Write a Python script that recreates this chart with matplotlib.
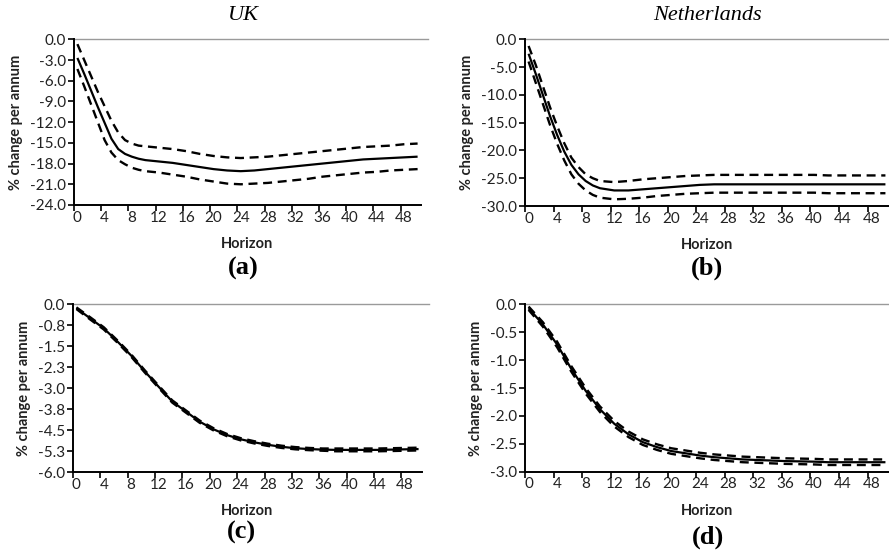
import matplotlib
matplotlib.use("Agg")
import matplotlib.pyplot as plt

# ---------------- data ----------------
# Panel (a): UK
h_a = [0, 1, 2, 3, 4, 5, 6, 7, 8, 9, 10, 12, 14, 16, 18, 20, 22, 24, 26, 28,
       30, 32, 34, 36, 38, 40, 42, 44, 46, 48, 50]
mid_a = [-2.7, -5.0, -7.4, -9.8, -12.1, -14.4, -15.9, -16.6, -17.0, -17.3, -17.5,
         -17.7, -17.9, -18.2, -18.5, -18.8, -19.0, -19.1, -19.0, -18.8,
         -18.6, -18.4, -18.2, -18.0, -17.8, -17.6, -17.4, -17.3, -17.2, -17.1, -17.0]
hi_a = [-0.7, -3.0, -5.3, -7.6, -9.7, -11.8, -13.5, -14.6, -15.1, -15.4, -15.5,
        -15.7, -15.9, -16.2, -16.6, -16.9, -17.1, -17.2, -17.1, -17.0,
        -16.8, -16.6, -16.4, -16.2, -16.0, -15.8, -15.6, -15.5, -15.4, -15.2, -15.1]
lo_a = [-4.3, -6.8, -9.4, -12.0, -14.6, -16.4, -17.5, -18.1, -18.6, -18.9, -19.1,
        -19.3, -19.6, -19.9, -20.3, -20.6, -20.9, -21.0, -20.9, -20.8,
        -20.6, -20.4, -20.2, -19.9, -19.7, -19.5, -19.3, -19.2, -19.0, -18.9, -18.8]

# Panel (b): Netherlands
h_b = h_a
mid_b = [-2.6, -6.2, -10.0, -13.8, -17.2, -20.2, -22.6, -24.3, -25.5, -26.3, -26.8,
         -27.2, -27.2, -27.0, -26.8, -26.6, -26.4, -26.2, -26.1, -26.1,
         -26.1, -26.1, -26.1, -26.1, -26.1, -26.1, -26.1, -26.1, -26.1, -26.1, -26.1]
hi_b = [-1.2, -4.6, -8.4, -12.2, -15.6, -18.7, -21.3, -23.0, -24.3, -25.0, -25.5,
        -25.7, -25.5, -25.2, -25.0, -24.8, -24.6, -24.5, -24.4, -24.4,
        -24.4, -24.4, -24.4, -24.4, -24.4, -24.4, -24.5, -24.5, -24.5, -24.5, -24.5]
lo_b = [-4.0, -7.8, -11.6, -15.4, -18.8, -21.8, -24.3, -26.0, -27.2, -28.0, -28.5,
        -28.8, -28.7, -28.5, -28.2, -28.0, -27.8, -27.7, -27.6, -27.6,
        -27.6, -27.6, -27.6, -27.6, -27.6, -27.6, -27.7, -27.7, -27.7, -27.7, -27.7]

# Panel (c)
h_c = [0, 2, 4, 6, 8, 10, 12, 14, 16, 18, 20, 22, 24, 26, 28, 30, 32, 34, 36,
       38, 40, 42, 44, 46, 48, 50]
mid_c = [-0.14, -0.50, -0.86, -1.33, -1.83, -2.40, -2.94, -3.47, -3.83, -4.19,
         -4.46, -4.67, -4.82, -4.93, -5.02, -5.09, -5.14, -5.17, -5.19,
         -5.20, -5.20, -5.20, -5.20, -5.19, -5.18, -5.17]
hi_c = [-0.11, -0.46, -0.82, -1.29, -1.79, -2.36, -2.90, -3.43, -3.79, -4.15,
        -4.42, -4.63, -4.78, -4.89, -4.98, -5.05, -5.10, -5.13, -5.15,
        -5.15, -5.15, -5.15, -5.15, -5.14, -5.13, -5.12]
lo_c = [-0.17, -0.54, -0.90, -1.37, -1.87, -2.44, -2.98, -3.51, -3.87, -4.23,
        -4.50, -4.71, -4.86, -4.97, -5.06, -5.13, -5.18, -5.21, -5.23,
        -5.25, -5.25, -5.25, -5.25, -5.24, -5.23, -5.22]

# Panel (d)
h_d = h_c
mid_d = [-0.07, -0.36, -0.72, -1.16, -1.55, -1.88, -2.14, -2.33, -2.47, -2.56,
         -2.63, -2.67, -2.71, -2.74, -2.76, -2.78, -2.79, -2.80, -2.81,
         -2.815, -2.82, -2.83, -2.83, -2.83, -2.83, -2.83]
hi_d = [-0.04, -0.32, -0.67, -1.11, -1.50, -1.83, -2.09, -2.28, -2.42, -2.51,
        -2.58, -2.62, -2.66, -2.69, -2.71, -2.73, -2.74, -2.75, -2.76,
        -2.765, -2.77, -2.78, -2.78, -2.78, -2.78, -2.78]
lo_d = [-0.10, -0.40, -0.77, -1.21, -1.60, -1.93, -2.19, -2.38, -2.52, -2.61,
        -2.68, -2.72, -2.76, -2.79, -2.81, -2.83, -2.84, -2.85, -2.86,
        -2.865, -2.87, -2.88, -2.88, -2.88, -2.88, -2.88]

# Axis ticks and labels
x_ticks = [0, 4, 8, 12, 16, 20, 24, 28, 32, 36, 40, 44, 48]
x_labels = [str(v) for v in x_ticks]
y_ticks_a = [0.0, -3.0, -6.0, -9.0, -12.0, -15.0, -18.0, -21.0, -24.0]
y_labels_a = ["0.0", "-3.0", "-6.0", "-9.0", "-12.0", "-15.0", "-18.0", "-21.0", "-24.0"]
y_ticks_b = [0.0, -5.0, -10.0, -15.0, -20.0, -25.0, -30.0]
y_labels_b = ["0.0", "-5.0", "-10.0", "-15.0", "-20.0", "-25.0", "-30.0"]
y_ticks_c = [0.0, -0.75, -1.5, -2.25, -3.0, -3.75, -4.5, -5.25, -6.0]
y_labels_c = ["0.0", "-0.8", "-1.5", "-2.3", "-3.0", "-3.8", "-4.5", "-5.3", "-6.0"]
y_ticks_d = [0.0, -0.5, -1.0, -1.5, -2.0, -2.5, -3.0]
y_labels_d = ["0.0", "-0.5", "-1.0", "-1.5", "-2.0", "-2.5", "-3.0"]

titles = ["UK", "Netherlands", "", ""]
tags = ["(a)", "(b)", "(c)", "(d)"]

# ---------------- figure ----------------
W, H = 889, 555
fig = plt.figure(figsize=(W / 100, H / 100), dpi=100)
SANS = ["Lato", "DejaVu Sans"]
SERIF = ["Liberation Serif", "DejaVu Serif"]


def axes_px(left, top, right, bottom):
    return fig.add_axes([left / W, 1 - bottom / H, (right - left) / W, (bottom - top) / H])


def draw(ax, h, mid, lo, hi, yt, yl, gray_ext):
    dash = dict(color="black", lw=1.7, dashes=(3.8, 2.4), dash_capstyle="butt")
    ax.plot(h, hi, **dash)
    ax.plot(h, lo, **dash)
    ax.plot(h, mid, color="black", lw=1.6, solid_capstyle="butt")
    ax.set_xlim(-0.5, 50.5)
    ax.set_ylim(yt[-1], yt[0])
    ax.set_xticks(x_ticks)
    ax.set_xticklabels(x_labels, fontfamily=SANS, fontsize=11, color="#222222")
    ax.set_xticks([t - 0.5 for t in x_ticks], minor=True)
    ax.tick_params(axis="x", which="major", length=0, pad=4)
    ax.tick_params(axis="x", which="minor", length=4, width=1.2, direction="out")
    ax.set_yticks(yt)
    ax.set_yticklabels(yl, fontfamily=SANS, fontsize=11, color="#222222")
    ax.tick_params(axis="y", length=4, width=1.2, direction="out", pad=2)
    for s in ("right", "top"):
        ax.spines[s].set_visible(False)
    ax.spines["left"].set_linewidth(1.4)
    ax.spines["bottom"].set_linewidth(1.4)
    # zero line across the top of the plot area
    ax.plot([0, gray_ext], [1, 1], transform=ax.transAxes, color="#9a9a9a",
            lw=1.0, clip_on=False)
    ax.set_xlabel("Horizon", fontfamily=SANS, fontweight="bold", fontsize=10.5,
                  labelpad=9, color="#222222")
    ax.set_ylabel("% change per annum", fontfamily=SANS, fontweight="bold",
                  fontsize=10.5, labelpad=5, color="#222222")


ax_a = axes_px(74, 39.3, 421, 205)
draw(ax_a, h_a, mid_a, lo_a, hi_a, y_ticks_a, y_labels_a, 1.02)
ax_b = axes_px(525, 39.3, 889, 206)
draw(ax_b, h_b, mid_b, lo_b, hi_b, y_ticks_b, y_labels_b, 1.0)
ax_c = axes_px(73, 304.3, 422, 472.3)
draw(ax_c, h_c, mid_c, lo_c, hi_c, y_ticks_c, y_labels_c, 1.02)
ax_d = axes_px(525, 304.3, 889, 471.7)
draw(ax_d, h_d, mid_d, lo_d, hi_d, y_ticks_d, y_labels_d, 1.0)


def text_px(x, y, s, **kw):
    fig.text(x / W, 1 - y / H, s, ha="center", va="center", **kw)


text_px(243, 15, titles[0], fontfamily=SERIF, fontstyle="italic", fontsize=16)
text_px(707, 15, titles[1], fontfamily=SERIF, fontstyle="italic", fontsize=16)
text_px(243, 268, tags[0], fontfamily=SERIF, fontweight="bold", fontsize=19)
text_px(707, 268, tags[1], fontfamily=SERIF, fontweight="bold", fontsize=19)
text_px(241, 532, tags[2], fontfamily=SERIF, fontweight="bold", fontsize=19)
text_px(708, 537, tags[3], fontfamily=SERIF, fontweight="bold", fontsize=19)

fig.savefig("out.png", dpi=100)
